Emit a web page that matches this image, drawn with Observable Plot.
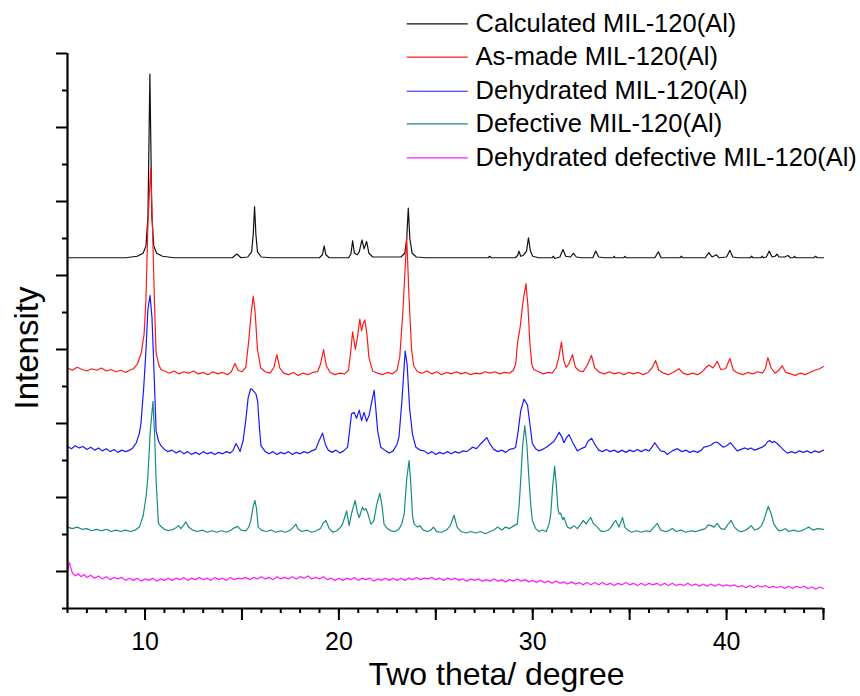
<!DOCTYPE html>
<html><head><meta charset="utf-8">
<script src="https://cdn.jsdelivr.net/npm/d3@7"></script>
<script src="https://cdn.jsdelivr.net/npm/@observablehq/plot@0.6"></script>
<style>body{margin:0;background:#fff} #chart svg{display:block}</style>
</head><body><div id="chart"></div>
<script>
const seriesNames = ["Calculated MIL-120(Al)", "As-made MIL-120(Al)", "Dehydrated MIL-120(Al)", "Defective MIL-120(Al)", "Dehydrated defective MIL-120(Al)"];
const seriesColors = ["#111111", "#ff1a1a", "#1a1aff", "#178c82", "#ff1aff"];

const calculated = [[6.0,474],[9.0,474],[9.6,476],[9.9,480],[10.05,490],[10.15,530],[10.25,722],[10.35,530],[10.45,490],[10.6,480],[10.9,476],[11.5,474],
[14.5,474],[14.74,479],[14.95,474],
[15.3,475],[15.5,482],[15.58,505],[15.65,543],[15.72,505],[15.8,482],[16.0,475],[16.5,474],
[19.0,474],[19.15,478],[19.24,490],[19.33,478],[19.5,474],
[20.5,474],[20.62,479],[20.71,497],[20.8,480],[20.95,478],[21.05,482],[21.19,498],[21.3,486],[21.43,496],[21.55,480],[21.75,475],
[23.2,475],[23.4,480],[23.5,500],[23.58,541],[23.66,500],[23.78,480],[24.0,475],[24.5,474],
[27.7,474],[27.78,476],[27.86,474],
[29.1,474],[29.22,477],[29.29,483],[29.38,476],[29.5,477],[29.68,483],[29.78,501],[29.88,483],[30.0,476],[30.3,474],
[31.0,474],[31.07,476],[31.14,473],[31.4,475],[31.56,485],[31.7,476],[31.95,475],[32.1,480],[32.25,475],[32.5,474],
[33.1,474],[33.25,483],[33.4,475],[33.7,474],
[34.15,474],[34.2,476],[34.25,474],[34.7,474],[34.76,476],[34.82,474],
[36.3,474],[36.48,482],[36.62,474],
[37.6,474],[37.67,476],[37.74,474],
[38.9,474],[39.09,481],[39.25,475],[39.48,478],[39.6,474],[40.0,475],[40.17,484],[40.32,475],[40.6,474],
[41.22,474],[41.29,476],[41.36,474],[41.77,474],[41.84,476],[41.9,474],[42.05,475],[42.2,483],[42.35,475],[42.5,476],[42.6,479],[42.7,475],[43.0,475],[43.16,477],[43.3,474],[43.45,474],[43.5,476],[43.57,474],[44.5,474],[44.59,476],[44.68,474],[45,474]];

const asMade = [[6.0,325],[6.25,322],[6.5,326],[6.75,323],[7.0,321],[7.25,324],[7.5,322],[7.75,325],[8.0,321],[8.25,323],[8.5,320],[8.75,322],[9.0,319],[9.2,322],[9.4,324],[9.6,330],[9.8,345],[9.95,370],[10.05,420],[10.15,520],[10.29,595],[10.38,520],[10.48,420],[10.57,345],[10.7,330],[10.82,323],[11.0,321],[11.25,318],[11.5,321],[11.75,317],[12.0,320],[12.25,318],[12.5,321],[12.75,317],[13.0,319],[13.25,316],[13.5,320],[13.75,317],[14.0,319],[14.25,316],[14.45,320],[14.64,331],[14.8,322],[15.0,320],[15.2,326],[15.35,362],[15.48,400],[15.58,422],[15.68,400],[15.8,350],[15.97,325],[16.2,320],[16.45,318],[16.65,326],[16.8,343],[16.95,325],[17.15,318],[17.4,316],[17.65,319],[17.9,315],[18.15,318],[18.4,316],[18.65,319],[18.9,320],[19.05,330],[19.21,350],[19.35,328],[19.55,319],[19.8,316],[20.05,318],[20.3,317],[20.5,322],[20.6,345],[20.71,374],[20.85,350],[20.95,365],[21.08,391],[21.17,375],[21.25,385],[21.34,390],[21.45,370],[21.55,339],[21.74,321],[22.0,318],[22.25,316],[22.5,319],[22.75,317],[23.0,322],[23.14,340],[23.3,400],[23.5,501],[23.62,420],[23.75,350],[23.86,328],[24.05,320],[24.3,318],[24.55,321],[24.8,317],[25.05,320],[25.3,316],[25.55,319],[25.8,317],[26.05,320],[26.3,317],[26.55,319],[26.8,316],[27.05,318],[27.3,317],[27.55,320],[27.8,318],[28.05,320],[28.3,317],[28.55,319],[28.8,318],[29.0,322],[29.12,330],[29.22,360],[29.35,380],[29.5,415],[29.65,439],[29.75,410],[29.85,360],[29.95,330],[30.05,323],[30.3,320],[30.55,317],[30.8,319],[31.0,318],[31.2,325],[31.35,340],[31.48,360],[31.6,335],[31.72,326],[31.85,330],[32.05,343],[32.2,326],[32.4,321],[32.6,320],[32.8,328],[33.03,342],[33.2,325],[33.45,319],[33.7,317],[33.95,320],[34.2,317],[34.45,319],[34.7,316],[34.95,319],[35.2,317],[35.45,319],[35.7,316],[35.95,319],[36.15,325],[36.34,335],[36.5,322],[36.75,318],[37.0,316],[37.3,320],[37.54,324],[37.75,318],[38.0,316],[38.25,318],[38.5,316],[38.75,320],[38.95,326],[39.09,329],[39.3,325],[39.52,334],[39.7,323],[39.95,324],[40.17,338],[40.35,322],[40.6,318],[40.85,316],[41.1,319],[41.35,317],[41.6,320],[41.85,318],[42.0,324],[42.13,339],[42.3,325],[42.5,318],[42.7,322],[42.87,328],[43.05,319],[43.3,317],[43.55,315],[43.8,318],[44.05,316],[44.3,319],[44.55,322],[44.8,324],[45.0,327]];

const dehydrated = [[6.0,219],[6.2,216],[6.4,220],[6.6,217],[6.8,219],[7.0,215],[7.2,218],[7.4,214],[7.6,217],[7.8,213],[8.0,216],[8.2,212],[8.4,215],[8.6,211],[8.8,214],[9.0,212],[9.2,214],[9.37,217],[9.55,224],[9.7,236],[9.79,250],[9.93,298],[10.05,350],[10.15,405],[10.26,423],[10.36,392],[10.45,330],[10.57,240],[10.7,226],[10.82,220],[11.0,215],[11.17,212],[11.4,214],[11.6,210],[11.8,213],[12.0,209],[12.2,212],[12.4,208],[12.6,211],[12.8,208],[13.0,212],[13.2,209],[13.4,211],[13.6,208],[13.8,211],[14.0,209],[14.2,212],[14.4,210],[14.55,214],[14.69,223],[14.8,218],[14.9,212],[15.06,227],[15.2,255],[15.32,285],[15.45,297],[15.52,296],[15.62,293],[15.72,290],[15.81,280],[15.9,245],[15.98,220],[16.2,212],[16.4,209],[16.6,212],[16.8,208],[17.0,211],[17.2,209],[17.4,212],[17.6,208],[17.8,211],[18.0,209],[18.2,212],[18.4,210],[18.6,213],[18.8,215],[18.95,225],[19.16,237],[19.3,222],[19.45,214],[19.65,211],[19.85,214],[20.05,210],[20.25,213],[20.45,218],[20.55,240],[20.65,263],[20.79,265],[20.91,257],[21.05,268],[21.17,254],[21.3,265],[21.43,253],[21.56,261],[21.7,280],[21.82,295],[21.92,265],[22.0,240],[22.16,218],[22.42,213],[22.6,210],[22.8,213],[23.0,222],[23.1,232],[23.25,280],[23.42,348],[23.52,330],[23.65,270],[23.8,235],[23.97,218],[24.2,214],[24.4,213],[24.6,209],[24.8,212],[25.0,208],[25.2,211],[25.4,209],[25.6,212],[25.8,209],[26.0,212],[26.2,210],[26.4,213],[26.6,212],[26.89,218],[27.1,216],[27.3,222],[27.45,226],[27.63,231],[27.8,222],[27.99,215],[28.2,212],[28.4,214],[28.6,211],[28.8,215],[29.0,216],[29.12,218],[29.25,240],[29.38,267],[29.55,283],[29.73,275],[29.85,250],[29.98,223],[30.15,216],[30.32,213],[30.5,215],[30.7,218],[30.9,222],[31.1,226],[31.36,238],[31.5,232],[31.61,224],[31.75,231],[31.87,235],[32.05,225],[32.3,213],[32.5,216],[32.7,218],[32.85,226],[33.04,230],[33.2,222],[33.4,214],[33.6,212],[33.8,215],[34.0,212],[34.2,214],[34.4,211],[34.6,214],[34.8,211],[35.0,214],[35.2,212],[35.4,215],[35.6,212],[35.8,215],[36.0,213],[36.15,218],[36.3,224],[36.45,218],[36.6,213],[36.8,212],[36.94,208],[37.2,213],[37.46,216],[37.7,212],[37.9,214],[38.1,211],[38.3,213],[38.5,211],[38.7,214],[38.83,218],[39.0,219],[39.2,221],[39.35,224],[39.49,225],[39.65,222],[39.83,218],[40.0,220],[40.2,224],[40.35,219],[40.55,213],[40.75,215],[40.95,217],[41.1,215],[41.24,217],[41.45,214],[41.65,216],[41.84,218],[42.0,221],[42.1,225],[42.23,227],[42.35,224],[42.45,226],[42.61,223],[42.8,218],[42.95,214],[43.13,210],[43.35,212],[43.55,210],[43.75,213],[43.95,211],[44.16,213],[44.35,210],[44.55,213],[44.75,211],[45.0,214]];

const defective = [[6.0,110],[6.25,108],[6.5,110],[6.75,107],[7.0,108],[7.25,105],[7.5,107],[7.75,105],[8.0,107],[8.25,104],[8.5,106],[8.75,104],[9.0,106],[9.25,104],[9.5,106],[9.71,110],[9.9,125],[10.05,150],[10.15,180],[10.27,240],[10.41,280],[10.5,230],[10.57,173],[10.69,115],[10.85,110],[11.0,107],[11.2,105],[11.45,107],[11.6,109],[11.72,112],[11.85,108],[12.0,113],[12.11,117],[12.25,110],[12.45,106],[12.7,104],[12.95,106],[13.2,103],[13.45,105],[13.7,103],[13.95,105],[14.2,103],[14.45,106],[14.6,109],[14.78,111],[14.95,106],[15.2,105],[15.35,110],[15.46,119],[15.58,138],[15.67,146],[15.75,135],[15.84,110],[16.0,106],[16.25,104],[16.5,106],[16.75,103],[17.0,105],[17.25,103],[17.5,106],[17.65,110],[17.78,114],[17.9,107],[18.1,104],[18.35,106],[18.6,103],[18.85,105],[19.05,108],[19.2,116],[19.33,119],[19.5,108],[19.7,103],[19.9,105],[20.05,109],[20.19,114],[20.32,125],[20.4,132],[20.53,112],[20.65,128],[20.84,146],[20.95,130],[21.05,123],[21.22,137],[21.3,133],[21.39,135],[21.5,128],[21.65,114],[21.8,118],[21.95,140],[22.11,156],[22.22,140],[22.33,114],[22.5,108],[22.68,105],[22.9,104],[23.1,107],[23.25,115],[23.37,128],[23.5,175],[23.62,200],[23.72,165],[23.8,125],[23.88,114],[24.06,110],[24.18,112],[24.35,106],[24.6,104],[24.75,106],[24.88,110],[25.05,104],[25.3,103],[25.55,106],[25.75,112],[25.94,126],[26.1,110],[26.3,104],[26.55,102],[26.8,104],[27.05,102],[27.3,104],[27.55,101],[27.8,104],[28.0,106],[28.18,110],[28.4,106],[28.6,110],[28.8,108],[29.04,112],[29.2,114],[29.3,140],[29.38,173],[29.48,220],[29.59,247],[29.7,220],[29.81,173],[29.9,140],[29.98,119],[30.15,108],[30.32,104],[30.5,106],[30.7,104],[30.85,115],[30.93,128],[31.03,165],[31.13,192],[31.22,165],[31.3,135],[31.36,128],[31.44,129],[31.55,120],[31.61,123],[31.79,110],[31.95,108],[32.13,112],[32.3,108],[32.45,113],[32.61,119],[32.75,114],[32.85,118],[32.99,123],[33.15,114],[33.34,110],[33.5,105],[33.7,104],[33.9,106],[34.05,110],[34.17,116],[34.28,119],[34.45,110],[34.63,123],[34.75,110],[34.9,106],[35.1,103],[35.35,105],[35.6,103],[35.85,105],[36.05,104],[36.25,110],[36.43,115],[36.6,106],[36.85,104],[37.0,105],[37.2,108],[37.4,104],[37.65,106],[37.9,103],[38.15,105],[38.4,104],[38.65,106],[38.9,108],[39.05,113],[39.21,112],[39.35,110],[39.52,115],[39.7,108],[39.9,107],[40.05,113],[40.24,119],[40.4,110],[40.6,105],[40.8,104],[41.0,106],[41.15,109],[41.27,112],[41.45,106],[41.65,108],[41.8,112],[41.92,119],[42.05,130],[42.15,138],[42.3,128],[42.44,114],[42.6,108],[42.7,105],[42.9,106],[43.04,108],[43.2,104],[43.45,106],[43.7,104],[43.95,106],[44.1,108],[44.24,110],[44.45,106],[44.7,108],[45.0,107]];

const dehydratedDefective = [[6.0,49],[6.05,58],[6.1,62],[6.17,55],[6.25,48],[6.4,44],[6.55,47],[6.7,43],[6.85,46],[7.0,42],[7.2,45],[7.4,41],[7.6,44],[7.8,40],[8.0,43],[8.2,39],[8.4,42],[8.6,40],[8.8,42],[9.0,38],[9.2,41],[9.4,38],[9.6,41],[9.8,37],[10.0,40],[10.2,38],[10.4,41],[10.6,37],[10.8,40],[11.0,38],[11.2,41],[11.4,38],[11.6,41],[11.8,39],[12.0,42],[12.2,38],[12.4,41],[12.6,39],[12.8,42],[13.0,39],[13.2,41],[13.4,38],[13.6,42],[13.8,39],[14.0,41],[14.2,38],[14.4,42],[14.6,39],[14.8,41],[15.0,40],[15.2,42],[15.4,39],[15.6,42],[15.8,40],[16.0,43],[16.2,40],[16.4,42],[16.6,39],[16.8,43],[17.0,40],[17.2,42],[17.4,40],[17.6,43],[17.8,40],[18.0,43],[18.2,41],[18.4,44],[18.6,40],[18.8,42],[19.0,40],[19.2,43],[19.4,39],[19.6,41],[19.8,38],[20.0,41],[20.2,38],[20.4,41],[20.6,39],[20.8,42],[21.0,38],[21.2,41],[21.4,39],[21.6,41],[21.8,37],[22.0,40],[22.2,38],[22.4,41],[22.6,38],[22.8,41],[23.0,38],[23.2,41],[23.4,38],[23.6,41],[23.8,39],[24.0,42],[24.2,39],[24.4,41],[24.6,40],[24.8,42],[25.0,39],[25.2,41],[25.4,38],[25.6,41],[25.8,39],[26.0,41],[26.2,38],[26.4,40],[26.6,37],[26.8,40],[27.0,38],[27.2,40],[27.4,37],[27.6,39],[27.8,37],[28.0,40],[28.2,37],[28.4,39],[28.6,36],[28.8,39],[29.0,37],[29.2,40],[29.4,37],[29.6,39],[29.8,36],[30.0,38],[30.2,35],[30.4,38],[30.6,35],[30.8,37],[31.0,34],[31.2,37],[31.4,34],[31.6,36],[31.8,33],[32.0,36],[32.2,33],[32.4,35],[32.6,32],[32.8,35],[33.0,32],[33.2,35],[33.4,32],[33.6,35],[33.8,32],[34.0,34],[34.2,31],[34.4,34],[34.6,32],[34.8,35],[35.0,32],[35.2,34],[35.4,31],[35.6,34],[35.8,31],[36.0,34],[36.2,32],[36.4,34],[36.6,31],[36.8,34],[37.0,31],[37.2,34],[37.4,31],[37.6,33],[37.8,31],[38.0,34],[38.2,31],[38.4,33],[38.6,30],[38.8,33],[39.0,30],[39.2,33],[39.4,30],[39.6,33],[39.8,30],[40.0,32],[40.2,30],[40.4,32],[40.6,29],[40.8,31],[41.0,28],[41.2,31],[41.4,28],[41.6,31],[41.8,29],[42.0,31],[42.2,28],[42.4,30],[42.6,28],[42.8,30],[43.0,27],[43.2,30],[43.4,27],[43.6,30],[43.8,28],[44.0,30],[44.2,27],[44.4,29],[44.6,26],[44.8,29],[45.0,27]];

const xLabelTicks = [10, 20, 30, 40];
const xMidTicks = [10, 15, 20, 25, 30, 35, 40, 45];
const xMinorTicks = [6,7,8,9,10,11,12,13,14,15,16,17,18,19,20,21,22,23,24,25,26,27,28,29,30,31,32,33,34,35,36,37,38,39,40,41,42,43,44,45];
const yMajorTicks = [50, 150, 250, 350, 450, 550, 650, 750];
const yMinorTicks = [0, 100, 200, 300, 400, 500, 600, 700];

// legend and title layout (in chart units)
const legendY = [790, 745, 699, 655, 609];
const legendX1 = 23.5, legendX2 = 26.65, legendTextX = 27.05;
const yTitlePos = {x: 3.94, y: 352};

const allSeries = [calculated, asMade, dehydrated, defective, dehydratedDefective];
const rows = allSeries.flatMap((s, i) => s.map(([x, y]) => ({x, y, series: seriesNames[i]})));
const legendRows = seriesNames.map((name, i) => ({series: name, ly: legendY[i]}));

const font = "'Liberation Sans', Arial, Helvetica, sans-serif";

const chart = Plot.plot({
  width: 860, height: 696,
  marginLeft: 67, marginRight: 37, marginTop: 53, marginBottom: 88,
  style: {fontFamily: font, background: "white", color: "black", overflow: "visible"},
  x: {domain: [6, 45], axis: null},
  y: {domain: [0, 750], axis: null},
  color: {domain: seriesNames, range: seriesColors},
  marks: [
    Plot.lineY(rows, {x: "x", y: "y", z: "series", stroke: "series", strokeWidth: 1.2, strokeLinejoin: "round"}),
    Plot.axisX({ticks: xMinorTicks, tickSize: 5, tickFormat: () => "", strokeWidth: 2, label: null}),
    Plot.axisX({ticks: xMidTicks, tickSize: 12, tickFormat: () => "", strokeWidth: 2, label: null}),
    Plot.axisX({ticks: xLabelTicks, tickSize: 0, tickPadding: 24, fontSize: 25, label: null}),
    Plot.axisY({ticks: yMajorTicks, tickSize: 11, tickFormat: () => "", strokeWidth: 2, label: null}),
    Plot.axisY({ticks: yMinorTicks, tickSize: 5, tickFormat: () => "", strokeWidth: 2, label: null}),
    Plot.ruleX([6], {strokeWidth: 2.2}),
    Plot.ruleY([0], {strokeWidth: 2.2}),
    Plot.text(["Two theta/ degree"], {frameAnchor: "bottom", dx: 51, dy: 76, lineAnchor: "bottom", fontSize: 32}),
    Plot.text(["Intensity"], {x: yTitlePos.x, y: yTitlePos.y, rotate: -90, fontSize: 33}),
    Plot.link(legendRows, {x1: legendX1, x2: legendX2, y1: "ly", y2: "ly", stroke: "series", strokeWidth: 1.2}),
    Plot.text(legendRows, {x: legendTextX, y: "ly", text: "series", textAnchor: "start", fontSize: 25.5, fill: "black"})
  ]
});
document.getElementById("chart").appendChild(chart);
</script>
</body></html>
